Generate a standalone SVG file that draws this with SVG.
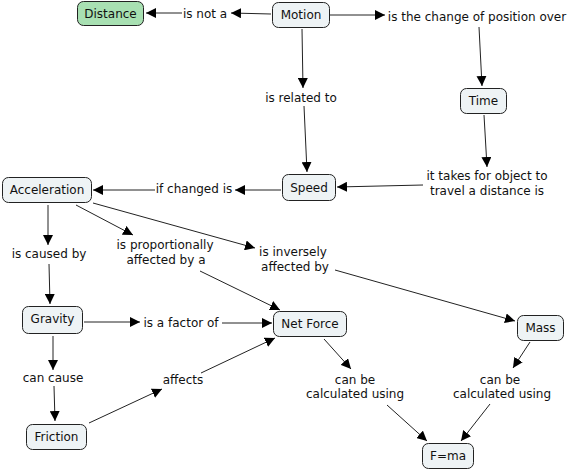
<svg xmlns="http://www.w3.org/2000/svg" width="571" height="472" viewBox="0 0 571 472">
<style>
.n rect{fill:#eef3f5;stroke:#222;stroke-width:1}
.n.g rect{fill:#a8e0b2}
text{font-family:"DejaVu Sans",Verdana,sans-serif;font-size:12px;fill:#111;text-anchor:middle;dominant-baseline:central}
.c line{stroke:#222;stroke-width:1;marker-end:url(#ah)}
</style>
<defs>
<marker id="ah" viewBox="0 0 10 10" refX="10" refY="5" markerWidth="10" markerHeight="10" markerUnits="userSpaceOnUse" orient="auto">
<path d="M0,0 L10,5 L0,10 z" fill="#000"/>
</marker>
</defs>
<rect width="571" height="472" fill="#fff"/>
<g id="connectors" class="c">
<line x1="271" y1="14" x2="231" y2="13"/>
<line x1="182" y1="13" x2="146" y2="13"/>
<line x1="330" y1="15" x2="385" y2="15"/>
<line x1="479" y1="27" x2="482" y2="86"/>
<line x1="302" y1="29" x2="303" y2="88"/>
<line x1="304" y1="106" x2="307" y2="172"/>
<line x1="484" y1="115" x2="487" y2="167"/>
<line x1="423" y1="185" x2="337" y2="187"/>
<line x1="281" y1="190" x2="235" y2="190"/>
<line x1="155" y1="190" x2="93" y2="190"/>
<line x1="48" y1="205" x2="48" y2="245"/>
<line x1="49" y1="264" x2="50" y2="304"/>
<line x1="76" y1="205" x2="133" y2="235"/>
<line x1="200" y1="271" x2="280" y2="310"/>
<line x1="93" y1="203" x2="255" y2="248"/>
<line x1="335" y1="270" x2="515" y2="321"/>
<line x1="84" y1="322" x2="140" y2="322"/>
<line x1="222" y1="323" x2="272" y2="323"/>
<line x1="53" y1="336" x2="53" y2="370"/>
<line x1="54" y1="386" x2="55" y2="421"/>
<line x1="89" y1="423" x2="162" y2="389"/>
<line x1="201" y1="373" x2="275" y2="338"/>
<line x1="324" y1="339" x2="351" y2="369"/>
<line x1="387" y1="405" x2="427" y2="441"/>
<line x1="530" y1="342" x2="513" y2="368"/>
<line x1="490" y1="404" x2="461" y2="441"/>
</g>
<g id="labels">
<text x="205" y="14">is not a</text>
<text x="477" y="17">is the change of position over</text>
<text x="301" y="98">is related to</text>
<text x="487" y="176">it takes for object to</text>
<text x="487" y="191">travel a distance is</text>
<text x="194" y="189">if changed is</text>
<text x="49" y="254">is caused by</text>
<text x="165" y="245">is proportionally</text>
<text x="166" y="260">affected by a</text>
<text x="293" y="252">is inversely</text>
<text x="295" y="267">affected by</text>
<text x="181" y="323">is a factor of</text>
<text x="53" y="378">can cause</text>
<text x="183" y="380">affects</text>
<text x="355" y="380">can be</text>
<text x="355" y="394">calculated using</text>
<text x="500" y="380">can be</text>
<text x="502" y="394">calculated using</text>
</g>
<g id="node-distance" class="n g"><rect x="77.5" y="1.5" width="66" height="24" rx="6"/><text x="110.5" y="14">Distance</text></g>
<g id="node-motion" class="n"><rect x="272.5" y="2.5" width="57" height="25" rx="6"/><text x="301" y="15">Motion</text></g>
<g id="node-time" class="n"><rect x="460.5" y="88.5" width="46" height="25" rx="6"/><text x="483.5" y="101">Time</text></g>
<g id="node-speed" class="n"><rect x="282.5" y="174.5" width="53" height="26" rx="6"/><text x="309" y="187.5">Speed</text></g>
<g id="node-acceleration" class="n"><rect x="2.5" y="177.5" width="89" height="25" rx="6"/><text x="47" y="190">Acceleration</text></g>
<g id="node-gravity" class="n"><rect x="22.5" y="306.5" width="60" height="27" rx="6"/><text x="52.5" y="319">Gravity</text></g>
<g id="node-friction" class="n"><rect x="26.5" y="424.5" width="60" height="25" rx="6"/><text x="56.5" y="437">Friction</text></g>
<g id="node-netforce" class="n"><rect x="273.5" y="311.5" width="73" height="25" rx="6"/><text x="310" y="324">Net Force</text></g>
<g id="node-mass" class="n"><rect x="517.5" y="315.5" width="46" height="25" rx="6"/><text x="540.5" y="328">Mass</text></g>
<g id="node-fma" class="n"><rect x="422.5" y="443.5" width="51" height="25" rx="6"/><text x="448" y="456">F=ma</text></g>
</svg>
